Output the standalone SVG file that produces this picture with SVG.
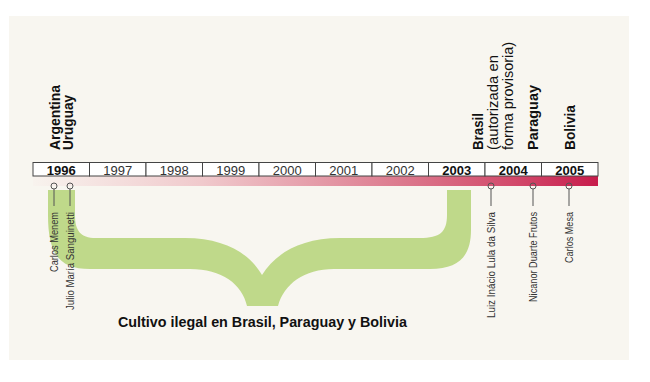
<svg xmlns="http://www.w3.org/2000/svg" width="650" height="382" viewBox="0 0 650 382">
<defs>
<linearGradient id="bar" x1="0" y1="0" x2="1" y2="0">
<stop offset="0" stop-color="#f8f3ee"/>
<stop offset="0.3" stop-color="#f0c9cc"/>
<stop offset="0.65" stop-color="#dc7a8e"/>
<stop offset="0.85" stop-color="#d24a6b"/>
<stop offset="1" stop-color="#c71c4c"/>
</linearGradient>
<style>
.bg{fill:#f8f6f0}
.cell{fill:#ffffff;stroke:#444;stroke-width:1}
.yr{font-family:"Liberation Sans",Arial,sans-serif;font-size:13px;fill:#333;text-anchor:middle}
.yb{font-weight:bold;fill:#111}
.lab{font-family:"Liberation Sans",Arial,sans-serif;font-size:14px;fill:#111}
.b{font-weight:bold}
.nm{font-family:"Liberation Sans",Arial,sans-serif;font-size:10.5px;fill:#333;text-anchor:end}
.pin{fill:none;stroke:#555;stroke-width:1}
.brace{fill:#bfd98a}
.cap{font-family:"Liberation Sans",Arial,sans-serif;font-size:14px;font-weight:bold;fill:#111}
</style>
</defs>
<rect x="0" y="0" width="650" height="382" fill="#ffffff"/>
<rect class="bg" x="9" y="16" width="620" height="344"/>

<g id="brace">
<path class="brace" d="M48,190 L48,215 C48,255 60,269 90,269 L190,269 C222,269 242,284 247,306 L278,306 C284,284 304,269 334,269 L430,269 C460,269 471,255 471,230 L471,190 L447,190 L447,215 C447,232 440,238 420,238 L340,238 C300,238 275,254 262,275 C250,254 225,238 185,238 L96,238 C80,238 75,230 75,215 L75,190 Z"/>
</g>

<g id="timeline">
<rect x="33" y="176" width="565" height="10" fill="url(#bar)"/>
<rect class="cell" x="33" y="162.5" width="56.5" height="13.5"/>
<rect class="cell" x="89.5" y="162.5" width="56.5" height="13.5"/>
<rect class="cell" x="146" y="162.5" width="56.5" height="13.5"/>
<rect class="cell" x="202.5" y="162.5" width="56.5" height="13.5"/>
<rect class="cell" x="259" y="162.5" width="56.5" height="13.5"/>
<rect class="cell" x="315.5" y="162.5" width="56.5" height="13.5"/>
<rect class="cell" x="372" y="162.5" width="56.5" height="13.5"/>
<rect class="cell" x="428.5" y="162.5" width="56.5" height="13.5"/>
<rect class="cell" x="485" y="162.5" width="56.5" height="13.5"/>
<rect class="cell" x="541.5" y="162.5" width="56.5" height="13.5"/>
<text class="yr yb" x="61.25" y="174.5">1996</text>
<text class="yr" x="117.75" y="174.5">1997</text>
<text class="yr" x="174.25" y="174.5">1998</text>
<text class="yr" x="230.75" y="174.5">1999</text>
<text class="yr" x="287.25" y="174.5">2000</text>
<text class="yr" x="343.75" y="174.5">2001</text>
<text class="yr" x="400.25" y="174.5">2002</text>
<text class="yr yb" x="456.75" y="174.5">2003</text>
<text class="yr yb" x="513.25" y="174.5">2004</text>
<text class="yr yb" x="569.75" y="174.5">2005</text>
</g>

<g id="top-labels">
<text class="lab b" transform="translate(59.5,150) rotate(-90)" textLength="65" lengthAdjust="spacingAndGlyphs">Argentina</text>
<text class="lab b" transform="translate(72.5,150) rotate(-90)" textLength="55" lengthAdjust="spacingAndGlyphs">Uruguay</text>
<text class="lab b" transform="translate(483,150) rotate(-90)" textLength="37" lengthAdjust="spacingAndGlyphs">Brasil</text>
<text class="lab" transform="translate(497.5,150) rotate(-90)" textLength="95" lengthAdjust="spacingAndGlyphs">(autorizada en</text>
<text class="lab" transform="translate(512.5,150) rotate(-90)" textLength="108" lengthAdjust="spacingAndGlyphs">forma provisoria)</text>
<text class="lab b" transform="translate(537.5,150) rotate(-90)" textLength="65" lengthAdjust="spacingAndGlyphs">Paraguay</text>
<text class="lab b" transform="translate(575,150) rotate(-90)" textLength="45" lengthAdjust="spacingAndGlyphs">Bolivia</text>
</g>

<g id="pin-menem">
<circle class="pin" cx="54" cy="186" r="3"/>
<line class="pin" x1="54" y1="189" x2="54" y2="206"/>
<text class="nm" transform="translate(57.5,212) rotate(-90)" textLength="60" lengthAdjust="spacingAndGlyphs">Carlos Menem</text>
</g>
<g id="pin-sanguinetti">
<circle class="pin" cx="70" cy="186" r="3"/>
<line class="pin" x1="70" y1="189" x2="70" y2="206"/>
<text class="nm" transform="translate(73.5,212) rotate(-90)" textLength="98" lengthAdjust="spacingAndGlyphs">Julio María Sanguinetti</text>
</g>
<g id="pin-lula">
<circle class="pin" cx="491" cy="186" r="3"/>
<line class="pin" x1="491" y1="189" x2="491" y2="206"/>
<text class="nm" transform="translate(494.5,212) rotate(-90)" textLength="106" lengthAdjust="spacingAndGlyphs">Luiz Inácio Lula da Silva</text>
</g>
<g id="pin-duarte">
<circle class="pin" cx="533" cy="186" r="3"/>
<line class="pin" x1="533" y1="189" x2="533" y2="206"/>
<text class="nm" transform="translate(536.5,212) rotate(-90)" textLength="90" lengthAdjust="spacingAndGlyphs">Nicanor Duarte Frutos</text>
</g>
<g id="pin-mesa">
<circle class="pin" cx="569" cy="186" r="3"/>
<line class="pin" x1="569" y1="189" x2="569" y2="206"/>
<text class="nm" transform="translate(572.5,212) rotate(-90)" textLength="51" lengthAdjust="spacingAndGlyphs">Carlos Mesa</text>
</g>

<g id="caption">
<text class="cap" x="118" y="326.5" textLength="289" lengthAdjust="spacingAndGlyphs">Cultivo ilegal en Brasil, Paraguay y Bolivia</text>
</g>
</svg>
